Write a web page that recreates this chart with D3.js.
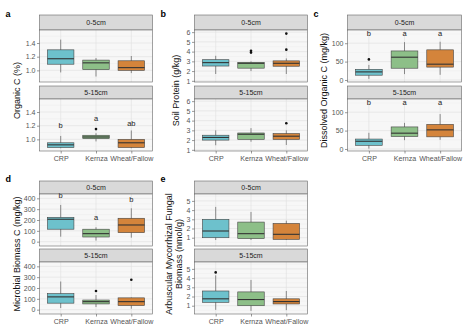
<!DOCTYPE html>
<html>
<head>
<meta charset="utf-8">
<script src="https://cdn.jsdelivr.net/npm/d3@7"></script>
<style>
  body { margin: 0; background: #fff; }
  svg { font-family: "Liberation Sans", Arial, sans-serif; }
</style>
</head>
<body>
<svg id="chart"></svg>
<script>
var width = 468;
var height = 330;

var treatments = ["CRP", "Kernza", "Wheat/Fallow"];
var depths = ["0-5cm", "5-15cm"];
var fills = ["#6dc1cc", "#8dbf88", "#d4843b"];

// box stats per depth, per treatment: [whisker low, q1, median, q3, whisker high]
var orgC = [
  [[0.97, 1.09, 1.17, 1.30, 1.45], [0.91, 1.01, 1.11, 1.15, 1.18], [0.96, 1.00, 1.04, 1.14, 1.21]],
  [[0.87, 0.88, 0.92, 0.95, 1.05], [0.97, 1.01, 1.035, 1.06, 1.09], [0.87, 0.88, 0.95, 1.00, 1.13]]
];
var orgCOut = [[[], [], []], [[], [1.15], []]];
var orgCLet = [null, ["b", "a", "ab"]];
var orgCLetY = [null, [1.2, 1.3, 1.22]];

var protein = [
  [[1.7, 2.52, 2.87, 3.17, 3.57], [2.0, 2.3, 2.8, 2.9, 3.0], [1.7, 2.5, 2.8, 3.05, 3.3]],
  [[1.47, 2.0, 2.27, 2.5, 3.0], [1.83, 2.07, 2.6, 2.73, 3.23], [1.5, 2.07, 2.4, 2.67, 3.0]]
];
var proteinOut = [[[], [3.9, 4.08], [4.2, 5.85]], [[], [], [3.73]]];

var doc = [
  [[3, 13, 22, 29, 41], [16, 32, 62, 79, 103], [14, 35, 43, 82, 104]],
  [[1, 10, 21, 27, 44], [24, 34, 43, 60, 71], [25, 33, 52, 67, 95]]
];
var docOut = [[[56], [], []], [[], [], []]];
var docLet = [["b", "a", "a"], ["b", "a", "a"]];
var docLetY = [[124, 124, 124], [126, 126, 126]];

var mbc = [
  [[46, 115, 207, 225, 339], [10, 43, 74, 115, 133], [37, 83, 154, 216, 308]],
  [[15, 60, 118, 148, 260], [24, 53, 74, 89, 135], [9, 38, 74, 109, 112]]
];
var mbcOut = [[[], [], []], [[], [172], [276]]];
var mbcLet = [["b", "a", "b"], null];
var mbcLetY = [[420, 215, 385], null];

var amf = [
  [[0.75, 1.0, 1.73, 3.0, 4.35], [0.75, 0.9, 1.44, 2.7, 3.8], [0.75, 0.82, 1.37, 2.55, 2.85]],
  [[0.55, 1.37, 1.75, 2.6, 4.3], [0.44, 1.0, 1.67, 2.5, 3.8], [0.52, 1.19, 1.45, 1.75, 2.6]]
];
var amfOut = [[[], [], []], [[4.62], [], []]];

var cols = [[39.5, 152.5], [194.5, 307.5], [347.5, 461.5]];
var rows = [
  {tag: 15, strips: [[15, 30], [86, 99]], plots: [[30, 82], [99, 151]]},
  {tag: 180, strips: [[181, 194], [249, 262]], plots: [[194, 246], [262, 314]]}
];

var panels = [
  {tag: "a", col: 0, row: 0, boxes: orgC, out: orgCOut, lets: orgCLet, letY: orgCLetY,
   domain: [0.83, 1.59], ticks: [1.0, 1.2, 1.4], fmt: d3.format(".1f"), title: ["Organic C (%)"], tx: [18]},
  {tag: "b", col: 1, row: 0, boxes: protein, out: proteinOut, lets: [null, null], letY: [null, null],
   domain: [0.88, 6.22], ticks: [1, 2, 3, 4, 5, 6], fmt: d3.format("d"), title: ["Soil Protein (g/kg)"], tx: [177]},
  {tag: "c", col: 2, row: 0, boxes: doc, out: docOut, lets: docLet, letY: docLetY,
   domain: [-5.5, 136], ticks: [0, 50, 100], fmt: d3.format("d"), title: ["Dissolved Organic C (mg/kg)"], tx: [325]},
  {tag: "d", col: 0, row: 1, boxes: mbc, out: mbcOut, lets: mbcLet, letY: mbcLetY,
   domain: [-40, 440], ticks: [0, 100, 200, 300, 400], fmt: d3.format("d"), title: ["Microbial Biomass C (mg/kg)"], tx: [18]},
  {tag: "e", col: 1, row: 1, boxes: amf, out: amfOut, lets: [null, null], letY: [null, null],
   domain: [0.1, 5.75], ticks: [1, 2, 3, 4, 5], fmt: d3.format("d"), title: ["Arbuscular Mycorrhizal Fungal", "Biomass (nmol/g)"], tx: [170, 180]}
];

var svg = d3.select("#chart").attr("width", width).attr("height", height);

panels.forEach(function(p) {
  var c = cols[p.col], r = rows[p.row];
  var x = d3.scalePoint().domain(treatments).range(c).padding(0.6);
  var bw = x.step() * 0.75;

  svg.append("text")
    .attr("x", c[0] - 34).attr("y", r.tag)
    .attr("font-size", 9).attr("font-weight", "bold")
    .attr("dominant-baseline", "middle")
    .text(p.tag);

  // y title
  var yMid = (r.plots[0][0] + r.plots[1][1]) / 2;
  p.title.forEach(function(t, i) {
    svg.append("text")
      .attr("transform", "translate(" + p.tx[i] + "," + yMid + ") rotate(-90)")
      .attr("text-anchor", "middle").attr("dominant-baseline", "middle")
      .attr("font-size", 9).attr("fill", "#111")
      .text(t);
  });

  depths.forEach(function(dep, di) {
    var pr = r.plots[di], sr = r.strips[di];
    var y = d3.scaleLinear().domain(p.domain).range([pr[1], pr[0]]);
    var g = svg.append("g");

    // strip
    g.append("rect").attr("x", c[0]).attr("y", sr[0])
      .attr("width", c[1] - c[0]).attr("height", sr[1] - sr[0])
      .attr("fill", "#d9d9d9").attr("stroke", "#666").attr("stroke-width", 0.6);
    g.append("text").attr("x", (c[0] + c[1]) / 2).attr("y", (sr[0] + sr[1]) / 2 + 0.5)
      .attr("text-anchor", "middle").attr("dominant-baseline", "middle")
      .attr("font-size", 7).attr("fill", "#222").text(dep);

    // panel bg
    g.append("rect").attr("x", c[0]).attr("y", pr[0])
      .attr("width", c[1] - c[0]).attr("height", pr[1] - pr[0])
      .attr("fill", "#f7f7f7");

    // minor grid
    var minor = [];
    for (var i = 0; i < p.ticks.length - 1; i++) minor.push((p.ticks[i] + p.ticks[i + 1]) / 2);
    minor.push(p.ticks[0] - (p.ticks[1] - p.ticks[0]) / 2);
    minor.push(p.ticks[p.ticks.length - 1] + (p.ticks[1] - p.ticks[0]) / 2);
    g.selectAll(".mn").data(minor.filter(function(v) { return v > p.domain[0] && v < p.domain[1]; }))
      .enter().append("line")
      .attr("x1", c[0]).attr("x2", c[1])
      .attr("y1", function(d) { return y(d); }).attr("y2", function(d) { return y(d); })
      .attr("stroke", "#ececec").attr("stroke-width", 0.5);
    g.selectAll(".mj").data(p.ticks).enter().append("line")
      .attr("x1", c[0]).attr("x2", c[1])
      .attr("y1", function(d) { return y(d); }).attr("y2", function(d) { return y(d); })
      .attr("stroke", "#e2e2e2").attr("stroke-width", 0.7);
    g.selectAll(".vx").data(treatments).enter().append("line")
      .attr("x1", function(d) { return x(d); }).attr("x2", function(d) { return x(d); })
      .attr("y1", pr[0]).attr("y2", pr[1])
      .attr("stroke", "#e2e2e2").attr("stroke-width", 0.7);

    // boxes
    var bx = g.selectAll(".box").data(p.boxes[di]).enter().append("g");
    bx.append("line")
      .attr("x1", function(d, i) { return x(treatments[i]); })
      .attr("x2", function(d, i) { return x(treatments[i]); })
      .attr("y1", function(d) { return y(d[0]); }).attr("y2", function(d) { return y(d[4]); })
      .attr("stroke", "#444").attr("stroke-width", 0.6);
    bx.append("rect")
      .attr("x", function(d, i) { return x(treatments[i]) - bw / 2; })
      .attr("width", bw)
      .attr("y", function(d) { return y(d[3]); })
      .attr("height", function(d) { return Math.max(0.5, y(d[1]) - y(d[3])); })
      .attr("fill", function(d, i) { return fills[i]; })
      .attr("stroke", "#444").attr("stroke-width", 0.6);
    bx.append("line")
      .attr("x1", function(d, i) { return x(treatments[i]) - bw / 2; })
      .attr("x2", function(d, i) { return x(treatments[i]) + bw / 2; })
      .attr("y1", function(d) { return y(d[2]); }).attr("y2", function(d) { return y(d[2]); })
      .attr("stroke", "#333").attr("stroke-width", 1.1);

    // outliers
    p.out[di].forEach(function(list, ti) {
      g.selectAll(".o" + ti).data(list).enter().append("circle")
        .attr("cx", x(treatments[ti])).attr("cy", function(d) { return y(d); })
        .attr("r", 1.3).attr("fill", "#111");
    });

    // letters
    if (p.lets[di]) {
      g.selectAll(".lt").data(p.lets[di]).enter().append("text")
        .attr("x", function(d, i) { return x(treatments[i]); })
        .attr("y", function(d, i) { return y(p.letY[di][i]); })
        .attr("text-anchor", "middle").attr("dominant-baseline", "middle")
        .attr("font-size", 7.5).attr("fill", "#222")
        .text(function(d) { return d; });
    }

    // border
    g.append("rect").attr("x", c[0]).attr("y", pr[0])
      .attr("width", c[1] - c[0]).attr("height", pr[1] - pr[0])
      .attr("fill", "none").attr("stroke", "#666").attr("stroke-width", 0.6);

    // y axis
    var ax = g.append("g").attr("transform", "translate(" + c[0] + ",0)")
      .call(d3.axisLeft(y).tickValues(p.ticks).tickFormat(p.fmt).tickSize(2.5).tickPadding(1.5));
    ax.select(".domain").remove();
    ax.selectAll("line").attr("stroke", "#555").attr("stroke-width", 0.6);
    ax.selectAll("text").attr("font-size", 7).attr("fill", "#555").attr("font-family", null);
  });

  // x labels
  var xa = svg.append("g").attr("transform", "translate(0," + r.plots[1][1] + ")")
    .call(d3.axisBottom(x).tickSize(2.5).tickPadding(2));
  xa.select(".domain").remove();
  xa.selectAll("line").attr("stroke", "#555").attr("stroke-width", 0.6);
  xa.selectAll("text").attr("font-size", 7.1).attr("fill", "#555").attr("font-family", null);
});
</script>
</body>
</html>
